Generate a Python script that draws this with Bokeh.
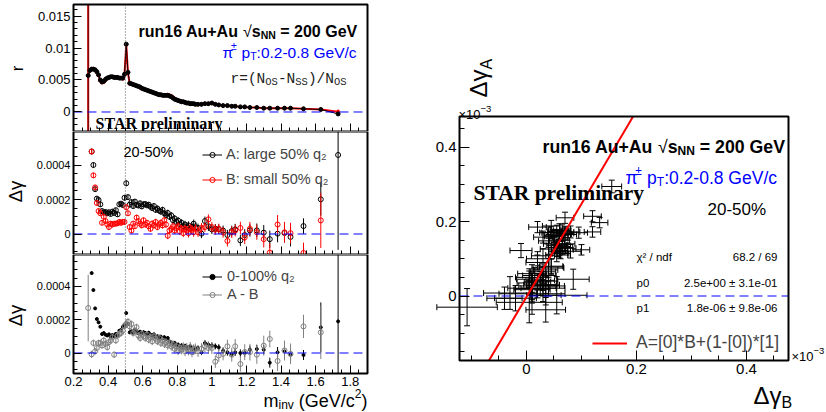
import math
from bokeh.plotting import figure
from bokeh.layouts import row, column
from bokeh.models import (Range1d, Label, ColumnDataSource, FixedTicker, BoxAnnotation,
                          Whisker, TeeHead, Legend, LegendItem)
from bokeh.embed import file_html
from bokeh.resources import INLINE

nan = float("nan")

# ---------------------------------------------------------------- data
m_inv = [0.285, 0.295, 0.305, 0.315, 0.325, 0.335, 0.345, 0.355, 0.365, 0.375,
         0.385, 0.395, 0.405, 0.415, 0.425, 0.435, 0.445, 0.455, 0.465, 0.475,
         0.485, 0.495, 0.505, 0.515, 0.525, 0.535, 0.545, 0.555, 0.565, 0.575,
         0.585, 0.595, 0.605, 0.615, 0.625, 0.635, 0.645, 0.655, 0.665, 0.675,
         0.685, 0.695, 0.705, 0.715, 0.725, 0.735, 0.745, 0.755, 0.765, 0.775,
         0.785, 0.795, 0.805, 0.815, 0.825, 0.835, 0.845, 0.855, 0.865, 0.875,
         0.885, 0.895, 0.905,
         0.92, 0.94, 0.96, 0.98, 1.00, 1.02, 1.04, 1.065, 1.09, 1.115,
         1.135, 1.165, 1.19, 1.22, 1.26, 1.30, 1.335, 1.38, 1.42, 1.455,
         1.53, 1.63, 1.73]

# r = (N_OS - N_SS)/N_OS, large-q2 (black) and small-q2 (red)
r_black = [0.0057, 0.0065, 0.0067, 0.0067, 0.0066, 0.0063, 0.0058, 0.0050, 0.0047, 0.0048,
           0.0051, 0.0053, 0.0054, 0.0055, 0.0055, 0.0054, 0.0054, 0.0054, 0.0053, 0.0053,
           0.0053, 0.0059, 0.0106, 0.0062, 0.0045, 0.0044, 0.0043, 0.0042, 0.0041, 0.0040,
           0.0039, 0.0037, 0.0036, 0.0035, 0.0034, 0.0033, 0.0032, 0.0031, 0.0030, 0.0029,
           0.0028, 0.0027, 0.0027, 0.0026, 0.0026, 0.0026, 0.0026, 0.0025, 0.0024, 0.0022,
           0.0020, 0.0019, 0.0018, 0.0017, 0.0016, 0.0016, 0.0015, 0.0014, 0.0014, 0.0013,
           0.0013, 0.0013, 0.0012,
           0.0012, 0.0012, 0.0013, 0.0013, 0.0014, 0.0012, 0.0011, 0.0010, 0.0010, 0.0009,
           0.0009, 0.0008, 0.0008, 0.0007, 0.0007, 0.0006, 0.0006, 0.0006, 0.0006, 0.0006,
           0.0005, 0.0004, -0.0003]
r_black_err = [0.03, 0.0001, 0.00008, 0.00006, 0.00005, 0.00005, 0.00005, 0.00005, 0.00005, 0.00005,
               0.00004, 0.00004, 0.00004, 0.00004, 0.00004, 0.00004, 0.00004, 0.00004, 0.00004, 0.00004,
               0.00004, 0.00004, 0.00006, 0.00004, 0.00004, 0.00004, 0.00004, 0.00004, 0.00004, 0.00004,
               0.00004, 0.00004, 0.00004, 0.00004, 0.00004, 0.00004, 0.00004, 0.00004, 0.00004, 0.00004,
               0.00004, 0.00004, 0.00004, 0.00004, 0.00004, 0.00004, 0.00004, 0.00004, 0.00004, 0.00004,
               0.00004, 0.00004, 0.00004, 0.00004, 0.00004, 0.00004, 0.00004, 0.00004, 0.00004, 0.00004,
               0.00004, 0.00004, 0.00004,
               0.00005, 0.00005, 0.00005, 0.00005, 0.00005, 0.00005, 0.00005, 0.00005, 0.00005, 0.00005,
               0.00005, 0.00005, 0.00005, 0.00005, 0.00006, 0.00006, 0.00006, 0.00006, 0.00006, 0.00007,
               0.00008, 0.00010, 0.00022]
r_red = [0.0057, 0.0065, 0.0067, 0.0067, 0.0066, 0.0062, 0.0057, 0.0049, 0.0046, 0.0047,
         0.0050, 0.0053, 0.0054, 0.0055, 0.0055, 0.0055, 0.0054, 0.0054, 0.0053, 0.0053,
         0.0052, 0.0058, 0.0105, 0.0061, 0.0044, 0.0044, 0.0043, 0.0042, 0.0041, 0.0040,
         0.0038, 0.0037, 0.0036, 0.0035, 0.0034, 0.0033, 0.0032, 0.0031, 0.0030, 0.0029,
         0.0028, 0.0027, 0.0027, 0.0026, 0.0026, 0.0026, 0.0027, 0.0026, 0.0025, 0.0023,
         0.0021, 0.0019, 0.0018, 0.0017, 0.0016, 0.0016, 0.0015, 0.0014, 0.0014, 0.0013,
         0.0013, 0.0013, 0.0012,
         0.0012, 0.0012, 0.0013, 0.0013, 0.0014, 0.0012, 0.0011, 0.0010, 0.0010, 0.0009,
         0.0009, 0.0008, 0.0008, 0.0007, 0.0007, 0.0006, 0.0006, 0.0006, 0.0006, 0.0006,
         0.0005, 0.0004, 0.00005]
r_red_err = [0.03, 0.0001, 0.00008, 0.00006, 0.00005, 0.00005, 0.00005, 0.00005, 0.00005, 0.00005,
             0.00004, 0.00004, 0.00004, 0.00004, 0.00004, 0.00004, 0.00004, 0.00004, 0.00004, 0.00004,
             0.00004, 0.00004, 0.00006, 0.00004, 0.00004, 0.00004, 0.00004, 0.00004, 0.00004, 0.00004,
             0.00004, 0.00004, 0.00004, 0.00004, 0.00004, 0.00004, 0.00004, 0.00004, 0.00004, 0.00004,
             0.00004, 0.00004, 0.00004, 0.00004, 0.00004, 0.00004, 0.00004, 0.00004, 0.00004, 0.00004,
             0.00004, 0.00004, 0.00004, 0.00004, 0.00004, 0.00004, 0.00004, 0.00004, 0.00004, 0.00004,
             0.00004, 0.00004, 0.00004,
             0.00005, 0.00005, 0.00005, 0.00005, 0.00005, 0.00005, 0.00005, 0.00005, 0.00005, 0.00005,
             0.00005, 0.00005, 0.00005, 0.00005, 0.00006, 0.00006, 0.00006, 0.00006, 0.00006, 0.00007,
             0.00008, 0.00012, 0.00030]

# Delta gamma, in units of 1e-4
dg_A = [nan, nan, 4.78, 4.00, 2.60, 2.05, 1.97, 1.72, 1.33, 1.24,
        1.28, 1.20, 1.26, 1.16, 1.30, 1.22, 1.38, 1.14, 1.72, 1.76,
        1.68, 2.10, 2.94, 2.14, 1.70, 1.85, 1.62, 1.88, 1.70, 1.65,
        1.78, 1.60, 1.72, 1.74, 1.66, 1.70, 1.58, 1.50, 1.62, 1.40,
        1.48, 1.36, 1.30, 1.40, 1.20, 1.10, 1.22, 1.00, 1.08, 0.80,
        0.90, 0.70, 0.78, 0.55, 0.65, 0.45, 0.55, 0.38, 0.50, 0.30,
        0.42, 0.60, 0.40,
        0.35, 0.02, 0.75, 0.45, 0.27, 0.30, 0.28, 0.20, -0.06, 0.17,
        0.27, -0.37, -0.06, 0.21, 0.21, 0.08, -0.30, 0.02, 0.06, -0.17,
        0.46, 2.01, 4.58]
dg_A_err = [0, 0, 0.16, 0.15, 0.14, 0.14, 0.14, 0.14, 0.14, 0.14,
            0.14, 0.14, 0.14, 0.14, 0.14, 0.14, 0.14, 0.14, 0.15, 0.15,
            0.15, 0.15, 0.17, 0.15, 0.15, 0.15, 0.15, 0.15, 0.15, 0.15,
            0.16, 0.16, 0.16, 0.16, 0.16, 0.16, 0.16, 0.17, 0.17, 0.17,
            0.17, 0.17, 0.18, 0.18, 0.18, 0.18, 0.19, 0.19, 0.19, 0.20,
            0.20, 0.20, 0.21, 0.21, 0.21, 0.22, 0.22, 0.22, 0.23, 0.23,
            0.24, 0.24, 0.25,
            0.25, 0.26, 0.26, 0.27, 0.27, 0.28, 0.28, 0.29, 0.30, 0.31,
            0.32, 0.33, 0.34, 0.36, 0.40, 0.44, 0.50, 0.50, 0.55, 0.55,
            0.45, 0.95, 5.5]
dg_B = [nan, nan, 4.78, 3.40, 2.70, 1.80, 1.33, 1.20, 0.65, 1.00,
        0.75, 0.56, 0.40, 0.60, 0.55, 0.60, 0.60, 0.62, 0.70, 0.65,
        0.70, 0.70, 1.55, 1.20, 0.40, 0.20, 0.60, 0.45, 0.95, 0.75,
        0.60, 0.50, 0.80, 0.55, 0.65, 0.45, 0.30, 0.60, 0.50, 0.70,
        0.40, 0.55, 0.65, 0.50, 0.80, 0.55, -0.10, 0.20, 0.30, 0.45,
        0.20, 0.35, 0.45, 0.15, 0.30, 0.05, 0.30, 0.20, 0.05, 0.35,
        0.25, 0.10, 0.30,
        0.10, 0.35, 0.40, 0.85, 0.40, 0.25, 0.30, 0.10, -0.40, 0.10,
        0.20, 0.35, -0.20, 0.30, 0.10, -0.30, -1.08, 0.55, 0.10, 0.05,
        -1.10, 0.79, nan]
dg_B_err = [0, 0, 0.16, 0.16, 0.15, 0.15, 0.15, 0.15, 0.15, 0.15,
            0.15, 0.15, 0.15, 0.15, 0.15, 0.15, 0.15, 0.15, 0.16, 0.16,
            0.16, 0.16, 0.18, 0.16, 0.16, 0.16, 0.16, 0.16, 0.16, 0.16,
            0.17, 0.17, 0.17, 0.17, 0.17, 0.17, 0.17, 0.18, 0.18, 0.18,
            0.18, 0.18, 0.19, 0.19, 0.19, 0.20, 0.20, 0.20, 0.21, 0.21,
            0.21, 0.22, 0.22, 0.22, 0.23, 0.23, 0.24, 0.24, 0.25, 0.25,
            0.26, 0.26, 0.27,
            0.27, 0.28, 0.28, 0.29, 0.29, 0.30, 0.30, 0.31, 0.32, 0.33,
            0.34, 0.36, 0.38, 0.40, 0.44, 0.48, 0.55, 0.55, 0.60, 0.60,
            0.60, 1.60, 0]
dg_all = [nan, nan, 4.80, 3.78, 2.68, 2.04, 1.84, 1.58, 1.14, 1.20,
          1.10, 1.05, 1.12, 0.98, 1.08, 1.00, 1.15, 1.05, 1.34, 1.38,
          1.56, 1.64, 2.40, 1.74, 1.24, 1.30, 1.22, 1.40, 1.30, 1.20,
          1.28, 1.18, 1.25, 1.20, 1.15, 1.22, 1.10, 1.05, 1.12, 0.95,
          1.00, 0.92, 0.98, 0.90, 0.95, 0.85, 0.90, 0.70, 0.62, 0.55,
          0.60, 0.45, 0.50, 0.38, 0.45, 0.30, 0.42, 0.35, 0.28, 0.40,
          0.25, 0.30, 0.20,
          0.30, 0.04, 0.60, 0.50, 0.45, 0.40, 0.34, 0.14, 0.04, -0.06,
          0.04, 0.00, 0.00, 0.20, 0.24, 0.20, -0.58, 0.04, 0.10, -0.10,
          -0.12, 1.54, 1.90]
dg_all_err = [0, 0, 0.10, 0.09, 0.08, 0.08, 0.08, 0.08, 0.08, 0.08,
              0.08, 0.08, 0.08, 0.08, 0.08, 0.08, 0.08, 0.08, 0.09, 0.09,
              0.09, 0.09, 0.10, 0.09, 0.09, 0.09, 0.09, 0.09, 0.09, 0.09,
              0.10, 0.10, 0.10, 0.10, 0.10, 0.10, 0.10, 0.10, 0.10, 0.10,
              0.11, 0.11, 0.11, 0.11, 0.11, 0.12, 0.12, 0.12, 0.12, 0.12,
              0.13, 0.13, 0.13, 0.13, 0.14, 0.14, 0.14, 0.14, 0.15, 0.15,
              0.15, 0.16, 0.16,
              0.16, 0.17, 0.17, 0.18, 0.18, 0.18, 0.19, 0.19, 0.20, 0.20,
              0.21, 0.22, 0.23, 0.24, 0.26, 0.28, 0.30, 0.32, 0.34, 0.36,
              0.30, 1.50, 12.0]
dg_AmB = [2.70, nan, -0.08, 0.60, 0.10, 0.30, 0.60, 0.60, 0.45, 0.75,
          0.55, 0.35, 0.65, 0.75, 0.95, -0.10, 0.75, 1.05, 1.15, 1.20,
          1.34, 1.64, 1.74, 1.88, 1.60, 1.74, 1.20, 1.34, 1.55, 1.05,
          0.90, 1.15, 1.00, 0.90, 1.10, 0.80, 0.95, 0.70, 1.00, 0.85,
          0.70, 0.90, 0.60, 0.75, 0.55, 0.65, 0.45, 0.60, 0.40, 0.50,
          0.25, 0.40, 0.15, 0.30, 0.20, 0.35, 0.10, 0.30, 0.15, 0.35,
          0.05, 0.20, 0.25,
          0.10, 0.25, 0.40, 0.30, 0.30, -0.52, -0.15, -0.05, 0.40, -0.10,
          0.40, -0.66, 0.05, 0.05, -0.10, 0.44, 0.84, -0.48, 0.15, -0.05,
          1.60, 1.24, nan]
dg_AmB_err = [2.0, 0, 0.22, 0.21, 0.20, 0.20, 0.20, 0.20, 0.20, 0.20,
              0.20, 0.20, 0.20, 0.20, 0.20, 0.20, 0.20, 0.20, 0.21, 0.21,
              0.21, 0.21, 0.24, 0.21, 0.21, 0.21, 0.21, 0.21, 0.21, 0.21,
              0.22, 0.22, 0.22, 0.22, 0.22, 0.22, 0.22, 0.23, 0.23, 0.23,
              0.23, 0.24, 0.24, 0.24, 0.25, 0.25, 0.25, 0.26, 0.26, 0.26,
              0.27, 0.27, 0.28, 0.28, 0.28, 0.29, 0.29, 0.30, 0.30, 0.31,
              0.31, 0.32, 0.32,
              0.33, 0.34, 0.34, 0.35, 0.36, 0.37, 0.38, 0.39, 0.40, 0.42,
              0.44, 0.46, 0.48, 0.50, 0.55, 0.60, 0.50, 0.60, 0.60, 0.62,
              0.70, 1.60, 0]

# mass window of the bins used in the A-vs-B fit (right panel)
fit_mass_window = (0.34, 1.46)
fit_p0, fit_p0_err = 2.5, 0.31
fit_p1, fit_p1_err = 1.8e-06, 9.8e-06
fit_chi2, fit_ndf = 68.2, 69
mass_marker = 0.5   # dotted vertical line

x_ticks = [0.2, 0.4, 0.6, 0.8, 1.0, 1.2, 1.4, 1.6, 1.8]
x_tick_labels = ["0.2", "0.4", "0.6", "0.8", "1", "1.2", "1.4", "1.6", "1.8"]
r_ticks = [0, 0.005, 0.01, 0.015]
r_tick_labels = ["0", "0.005", "0.01", "0.015"]
dg_ticks = [0, 0.0002, 0.0004]
dg_tick_labels = ["0", "0.0002", "0.0004"]
sc_ticks = [0, 0.2, 0.4]
sc_tick_labels = ["0", "0.2", "0.4"]

assert len(m_inv) == 86
for arr in (r_black, r_black_err, r_red, r_red_err, dg_A, dg_A_err, dg_B, dg_B_err,
            dg_all, dg_all_err, dg_AmB, dg_AmB_err):
    assert len(arr) == 86, len(arr)

# ---------------------------------------------------------------- style / layout
SANS, SERIF, MONO = "Liberation Sans", "Liberation Serif", "Liberation Mono"
BLUE, RED, GRAY = "#0000ff", "#ff0000", "#808080"

# figure boxes and plot frames, in page pixels (left, top, right, bottom)
B1, F1 = (0, 0, 400, 131), (73, 4, 367, 131)
B2, F2 = (0, 131, 400, 254), (73, 131, 367, 254)
B3, F3 = (0, 254, 400, 412), (73, 254, 367, 373)
B4, F4 = (400, 0, 826, 412), (459, 116, 788, 360)
XR = (0.2, 1.9)
Y1R = (-0.003047, 0.016797)
Y2R = (-0.0001188, 0.0005942)
Y3R = (-0.0001231, 0.0005916)
X4R = (-0.1218, 0.4764)
Y4R = (-0.17315, 0.48188)


def make_fig(box, fr, xr, yr):
    bl, bt, br, bb = box
    fl, ft, frr, fb = fr
    sx = (xr[1] - xr[0]) / (frr - fl)
    sy = (yr[1] - yr[0]) / (fb - ft)
    X0, X1 = xr[0] - (fl - bl) * sx, xr[1] + (br - frr) * sx
    Y0, Y1 = yr[0] - (bb - fb) * sy, yr[1] + (ft - bt) * sy
    p = figure(width=br - bl, height=bb - bt, x_range=Range1d(X0, X1),
               y_range=Range1d(Y0, Y1), output_backend="svg", toolbar_location=None,
               tools="", min_border=0, min_border_left=0, min_border_right=0,
               min_border_top=0, min_border_bottom=0)
    if p.title is not None:
        p.title.visible = False
    p.xgrid.visible = False
    p.ygrid.visible = False
    p.outline_line_color = None
    p.background_fill_color = "white"
    p.border_fill_color = "white"
    p.xaxis[0].fixed_location = yr[0]
    p.yaxis[0].fixed_location = xr[0]
    p.add_layout(BoxAnnotation(left=xr[0], right=xr[1], bottom=yr[0], top=yr[1],
                               fill_color=None, fill_alpha=0, line_color="black",
                               line_width=2, line_alpha=1))
    p._geo = (box, (X0, X1), (Y0, Y1), xr, yr)
    return p


def style_axis(ax, ticks, labels, minor, size, show=True, tin=8, tmin=4):
    ax.ticker = FixedTicker(ticks=ticks, minor_ticks=minor)
    ax.major_label_overrides = dict(zip(ticks, labels))
    ax.major_tick_in = tin
    ax.major_tick_out = 0
    ax.minor_tick_in = tmin
    ax.minor_tick_out = 0
    ax.axis_line_color = None
    ax.major_tick_line_color = "black"
    ax.minor_tick_line_color = "black"
    ax.major_label_text_font = SANS
    ax.major_label_text_color = "black" if show else None
    ax.major_label_text_font_size = size
    ax.major_label_standoff = 3


def to_data(p, px, py):
    (bl, bt, br, bb), (x0, x1), (y0, y1), _, _ = p._geo
    return (x0 + (px - bl) / (br - bl) * (x1 - x0),
            y1 - (py - bt) / (bb - bt) * (y1 - y0))


_W = {' ': 278, '%': 889, '(': 333, ')': 333, '*': 389, '+': 584, ',': 278, '-': 333,
      '.': 278, '/': 278, ':': 278, '=': 584, '[': 278, ']': 278,
      'A': 667, 'B': 667, 'G': 778, 'N': 722, 'O': 778, 'S': 667, 'T': 611, 'V': 667,
      'a': 556, 'c': 500, 'd': 556, 'e': 556, 'f': 278, 'g': 556, 'i': 222, 'l': 222,
      'm': 833, 'n': 556, 'o': 556, 'p': 556, 'q': 556, 'r': 333, 's': 500, 't': 278,
      'u': 556, 'v': 500, 'x': 500, 'y': 500, 'π': 556, '±': 584, '√': 549, 'γ': 500,
      'Δ': 668, '×': 584, 'χ': 530, '²': 333, '−': 584}
_WB = {'r': 389, 'u': 611, 'n': 611, 's': 556, 'A': 722, 'N': 722, 'c': 556, 'e': 556}


def tw(s, size, font=SANS, bold=False):
    if font == MONO:
        return 0.6 * size * len(s)
    tot = 0
    for ch in s:
        if ch.isdigit():
            w = 556
        else:
            w = (_WB.get(ch) if bold else None) or _W.get(ch, 556)
        tot += w
    return tot * size / 1000.0


def rich(p, x, y, pieces, align="left", vertical=False):
    """Place a run of text pieces (sub/superscripts) side by side."""
    ws = [tw(t, s, o.get("font", SANS), o.get("bold", False)) for t, s, o in pieces]
    total = sum(ws)
    if vertical:
        cur = y
    else:
        cur = x - total if align == "right" else x
    for (t, s, o), w in zip(pieces, ws):
        font = o.get("font", SANS)
        bold = o.get("bold", False)
        stripped = t.lstrip(" ")
        lead = tw(" " * (len(t) - len(stripped)), s, font, bold)
        dy = o.get("dy", 0)
        if vertical:
            px, py = x + dy, cur - lead
        else:
            px, py = cur + lead, y + dy
        dx_, dy_ = to_data(p, px, py)
        p.add_layout(Label(x=dx_, y=dy_, text=stripped.rstrip(" "), text_font=font,
                           text_font_size=f"{s}px",
                           text_font_style="bold" if bold else "normal",
                           text_color=o.get("color", "black"), text_align="left",
                           text_baseline="alphabetic",
                           angle=math.pi / 2 if vertical else 0))
        cur = cur - w if vertical else cur + w


def single(p, x, y, text, size, font=SANS, angle=0, align="center", baseline="middle",
           color="black", style="normal"):
    dx_, dy_ = to_data(p, x, y)
    p.add_layout(Label(x=dx_, y=dy_, text=text, text_font=font, text_font_size=f"{size}px",
                       text_font_style=style, text_color=color, text_align=align,
                       text_baseline=baseline, angle=angle))


def zero_line(p):
    xr = p._geo[3]
    p.line([xr[0], xr[1]], [0, 0], line_color=BLUE, line_dash="9 5", line_width=1)


def mass_line(p):
    yr = p._geo[4]
    p.line([mass_marker, mass_marker], [yr[0], yr[1]], line_color="#555555",
           line_dash="1 2", line_width=1)


def err_source(p, vals, errs, scale=1.0):
    y0, y1 = p._geo[4]
    return ColumnDataSource(dict(
        m=m_inv, v=[x * scale for x in vals],
        lo=[max((x - e) * scale, y0) for x, e in zip(vals, errs)],
        hi=[min((x + e) * scale, y1) for x, e in zip(vals, errs)]))


x_minor = [0.25, 0.3, 0.35, 0.45, 0.5, 0.55, 0.65, 0.7, 0.75, 0.85, 0.9, 0.95,
           1.05, 1.1, 1.15, 1.25, 1.3, 1.35, 1.45, 1.5, 1.55, 1.65, 1.7, 1.75, 1.85]
r_minor = [-0.003, -0.002, -0.001, 0.001, 0.002, 0.003, 0.004, 0.006, 0.007, 0.008,
           0.009, 0.011, 0.012, 0.013, 0.014, 0.016]
dg_minor = [-0.0001, -0.00005, 0.00005, 0.0001, 0.00015, 0.00025, 0.0003, 0.00035,
            0.00045, 0.0005, 0.00055]
sc_minor = [-0.1, -0.05, 0.05, 0.1, 0.15, 0.25, 0.3, 0.35, 0.45]
sc_yminor = [-0.15, -0.1, -0.05, 0.05, 0.1, 0.15, 0.25, 0.3, 0.35, 0.45]

E4 = 1e-4


def legend(p, items, x, y, size, gw=20, gh=13, lh=13, spacing=9, standoff=4):
    p.add_layout(Legend(items=items, location=(x, y), border_line_color=None,
                        background_fill_alpha=0, label_text_font=SANS,
                        label_text_font_size=size, glyph_width=gw, glyph_height=gh,
                        label_height=lh, spacing=spacing, padding=0, margin=0,
                        label_standoff=standoff))


# ---------------------------------------------------------------- panel 1: r
p1 = make_fig(B1, F1, XR, Y1R)
style_axis(p1.xaxis[0], x_ticks, x_tick_labels, x_minor, "13px", show=False)
style_axis(p1.yaxis[0], r_ticks, r_tick_labels, r_minor, "13px")
srcRa = err_source(p1, r_black, r_black_err)
srcRb = err_source(p1, r_red, r_red_err)
p1.line("m", "v", source=srcRb, line_color=RED, line_width=2)
p1.segment("m", "lo", "m", "hi", source=srcRb, line_color=RED, line_width=2)
p1.scatter("m", "v", source=srcRb, marker="circle", size=3, line_color=RED, fill_color=RED)
p1.line("m", "v", source=srcRa, line_color="black", line_width=1)
p1.segment("m", "lo", "m", "hi", source=srcRa, line_color="#401010", line_width=1)
p1.scatter("m", "v", source=srcRa, marker="circle", size=4, line_color="black",
           fill_color="black")
zero_line(p1)
mass_line(p1)
rich(p1, 138, 30.5, [("run16 Au+Au ", 16, dict(bold=True)), ("√", 16, {}),
                     ("s", 16, dict(bold=True)), ("NN", 10.5, dict(bold=True, dy=3.5)),
                     (" = 200 GeV", 16, dict(bold=True))])
rich(p1, 222, 51.7, [("π", 15.5, dict(color=BLUE)), ("±", 10.5, dict(color=BLUE, dy=-6)),
                     (" p", 15.5, dict(color=BLUE)), ("T", 10.5, dict(color=BLUE, dy=4)),
                     (":0.2-0.8 GeV/c", 15.5, dict(color=BLUE))])
mono = dict(font=MONO, color="#222222")
mono_s = dict(font=MONO, color="#222222", dy=3.5)
rich(p1, 230, 78, [("r=(N", 14.5, mono), ("OS", 10.5, mono_s), ("-N", 14.5, mono),
                   ("SS", 10.5, mono_s), (")/N", 14.5, mono), ("OS", 10.5, mono_s)])
single(p1, 95, 123, "STAR preliminary", 16, font=SERIF, align="left",
       baseline="alphabetic", style="bold")
single(p1, 16.5, 68, "r", 17, angle=math.pi / 2)

# ---------------------------------------------------------------- panel 2: A and B
p2 = make_fig(B2, F2, XR, Y2R)
style_axis(p2.xaxis[0], x_ticks, x_tick_labels, x_minor, "13px", show=False)
style_axis(p2.yaxis[0], dg_ticks, dg_tick_labels, dg_minor, "11px")
srcA = err_source(p2, dg_A, dg_A_err, E4)
srcB = err_source(p2, dg_B, dg_B_err, E4)
segA = p2.segment("m", "lo", "m", "hi", source=srcA, line_color="black", line_width=1)
scA = p2.scatter("m", "v", source=srcA, marker="circle", size=5, line_color="black",
                 fill_alpha=0, line_width=1)
segB = p2.segment("m", "lo", "m", "hi", source=srcB, line_color=RED, line_width=1)
scB = p2.scatter("m", "v", source=srcB, marker="circle", size=5, line_color=RED,
                 fill_alpha=0, line_width=1)
zero_line(p2)
mass_line(p2)
single(p2, 123, 151.5, "20-50%", 14.5, align="left", baseline="alphabetic")
single(p2, 15, 191, "Δγ", 18.5, angle=math.pi / 2)
legend(p2, [LegendItem(label="A: large 50% q₂", renderers=[segA, scA]),
            LegendItem(label="B: small 50% q₂", renderers=[segB, scB])],
       202, 67, "14.5px")

# ---------------------------------------------------------------- panel 3: all and A-B
p3 = make_fig(B3, F3, XR, Y3R)
style_axis(p3.xaxis[0], x_ticks, x_tick_labels, x_minor, "13px")
style_axis(p3.yaxis[0], dg_ticks, dg_tick_labels, dg_minor, "11px")
srcC = err_source(p3, dg_all, dg_all_err, E4)
srcD = err_source(p3, dg_AmB, dg_AmB_err, E4)
segC = p3.segment("m", "lo", "m", "hi", source=srcC, line_color="black", line_width=1)
scC = p3.scatter("m", "v", source=srcC, marker="circle", size=3, line_color="black",
                 fill_color="black")
segD = p3.segment("m", "lo", "m", "hi", source=srcD, line_color=GRAY, line_width=1)
scD = p3.scatter("m", "v", source=srcD, marker="circle", size=5, line_color=GRAY,
                 fill_alpha=0, line_width=1)
zero_line(p3)
mass_line(p3)
single(p3, 15, 315, "Δγ", 18.5, angle=math.pi / 2)
legend(p3, [LegendItem(label="0-100% q₂", renderers=[segC, scC]),
            LegendItem(label="A - B", renderers=[segD, scD])],
       202, 110, "14.5px", spacing=2, standoff=5)
rich(p3, 367, 400, [("m", 18, {}), ("inv", 12, dict(dy=4)), (" (GeV/c", 18, {}),
                    ("2", 12, dict(dy=-7)), (")", 18, {})], align="right")

# ---------------------------------------------------------------- panel 4: A vs B
p4 = make_fig(B4, F4, X4R, Y4R)
style_axis(p4.xaxis[0], sc_ticks, sc_tick_labels, sc_minor, "15px", tin=10, tmin=5)
style_axis(p4.yaxis[0], sc_ticks, sc_tick_labels, sc_yminor, "15px", tin=10, tmin=5)
sel = [i for i, m in enumerate(m_inv)
       if fit_mass_window[0] <= m <= fit_mass_window[1]]
to_e3 = 0.1  # 1e-4 -> 1e-3
bx = [dg_B[i] * to_e3 for i in sel]
bxe = [dg_B_err[i] * to_e3 for i in sel]
ay = [dg_A[i] * to_e3 for i in sel]
aye = [dg_A_err[i] * to_e3 for i in sel]
src4 = ColumnDataSource(dict(x=bx, y=ay,
                             xl=[a - b for a, b in zip(bx, bxe)], xu=[a + b for a, b in zip(bx, bxe)],
                             yl=[a - b for a, b in zip(ay, aye)], yu=[a + b for a, b in zip(ay, aye)]))
for dim, base, lo, hi in (("height", "x", "yl", "yu"), ("width", "y", "xl", "xu")):
    p4.add_layout(Whisker(source=src4, base=base, lower=lo, upper=hi, dimension=dim,
                          line_color="black", line_width=1,
                          upper_head=TeeHead(size=6, line_color="black", line_width=1),
                          lower_head=TeeHead(size=6, line_color="black", line_width=1)))
zero_line(p4)
p1_e3 = fit_p1 / 1e-3
fx = [(Y4R[0] - (1 - fit_p0) * p1_e3) / fit_p0, (Y4R[1] - (1 - fit_p0) * p1_e3) / fit_p0]
fy = [fit_p0 * x + (1 - fit_p0) * p1_e3 for x in fx]
fit_r = p4.line(fx, fy, line_color=RED, line_width=2)
legend(p4, [LegendItem(label="A=[0]*B+(1-[0])*[1]", renderers=[fit_r])],
       192, 59, "17.5px", gw=35, gh=20, lh=20, spacing=0, standoff=9)

rich(p4, 458, 114, [("×10", 13, {}), ("−3", 9.5, dict(dy=-5.5))])
rich(p4, 791, 356, [("×10", 13, {}), ("−3", 9.5, dict(dy=-5.5))])
rich(p4, 542, 146, [("run16 Au+Au ", 17.7, dict(bold=True)), ("√", 17.7, {}),
                    ("s", 17.7, dict(bold=True)), ("NN", 12, dict(bold=True, dy=4)),
                    (" = 200 GeV", 17.7, dict(bold=True))])
rich(p4, 625, 177, [("π", 17.5, dict(color=BLUE)), ("±", 12, dict(color=BLUE, dy=-7)),
                    (" p", 17.5, dict(color=BLUE)), ("T", 12, dict(color=BLUE, dy=4.5)),
                    (":0.2-0.8 GeV/c", 17.5, dict(color=BLUE))])
single(p4, 473, 192, "STAR preliminary", 21.5, font=SERIF, align="left",
       baseline="alphabetic", style="bold")
single(p4, 707, 208.5, "20-50%", 17, align="left", baseline="alphabetic")
stat_rows = [("χ² / ndf", f"{fit_chi2:.1f} / {fit_ndf}", 256.5),
             ("p0", f"{fit_p0:.1e} ± {fit_p0_err:.1e}", 282),
             ("p1", f"{fit_p1:.1e} ± {fit_p1_err:.1e}", 307.5)]
for name, val, ry in stat_rows:
    single(p4, 636, ry, name, 11.5, align="left", baseline="alphabetic")
    single(p4, 777, ry, val, 11.5, align="right", baseline="alphabetic")
rich(p4, 753, 395, [("Δγ", 24, {}), ("B", 16, dict(dy=7))])
rich(p4, 478, 97, [("Δγ", 24, {}), ("A", 16, dict(dy=8))], vertical=True)

layout = row(column(p1, p2, p3), p4)
open("out.html", "w").write(file_html(layout, INLINE))
